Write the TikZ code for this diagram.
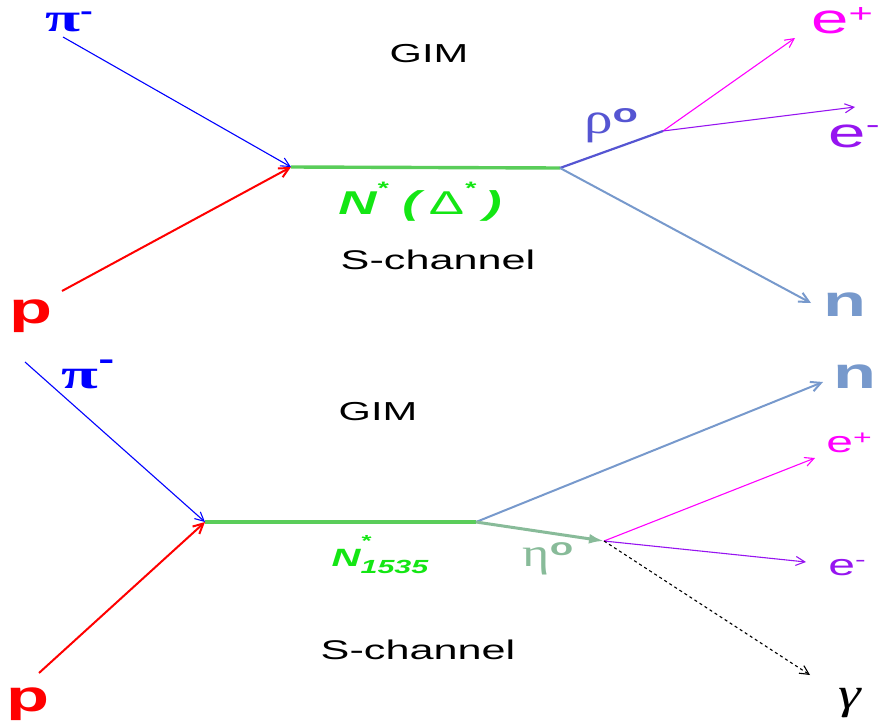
\documentclass[tikz,border=0pt]{standalone}
\usepackage{fontspec}
\usepackage{graphicx}
\usepackage{xcolor}
\usepackage{tikz}
\usetikzlibrary{arrows.meta}

\setmainfont{Liberation Sans}
\newfontfamily\greekfont{Liberation Serif}

\newcommand{\wide}[1]{\scalebox{1.6}[1]{#1}}
\newcommand{\fsize}[1]{\fontsize{#1}{#1}\selectfont}

\definecolor{pblue}{RGB}{0,0,255}
\definecolor{pred}{RGB}{255,0,0}
\definecolor{resline}{RGB}{90,205,90}
\definecolor{reslabel}{RGB}{20,230,20}
\definecolor{rhocol}{RGB}{85,85,210}
\definecolor{ncol}{RGB}{119,153,204}
\definecolor{epcol}{RGB}{255,0,255}
\definecolor{emcol}{RGB}{150,20,240}
\definecolor{etacol}{RGB}{136,187,153}

\begin{document}
\begin{tikzpicture}[
    x=1pt, y=-1pt,
    % text labels, placed by their baseline
    tag/.style={
        inner sep=0pt,
        anchor=base
    },
    % thin lines with an open head
    barb_arrow/.style={
        -{Straight Barb[length=9pt,width=9pt]},
        line width=1.1pt
    },
    % thicker lines with an open head
    thick_arrow/.style={
        -{Straight Barb[length=10pt,width=10pt]},
        line width=2pt
    },
    % resonance line
    res_line/.style={
        draw=resline,
        line width=3.4pt
    }
]
\useasboundingbox (0,0) rectangle (878,728);

% =====================================================================
% UPPER DIAGRAM
% =====================================================================
\coordinate (piA) at (63,37);
\coordinate (pA) at (62,291);
\coordinate (vinA) at (291,167);
\coordinate (voutA) at (560,168);
\coordinate (rhoA) at (663,131);
\coordinate (epA) at (795,38);
\coordinate (emA) at (855,107);
\coordinate (nA) at (811,303);

\node (piLabelA) [tag, text=pblue] at (69,31)
    {{\greekfont\bfseries\fsize{40}\wide{π}}\raisebox{12pt}{\bfseries\fsize{24}\wide{-}}};
\node (pLabelA) [tag, text=pred] at (31,323) {\bfseries\fsize{44}\wide{p}};
\node (gimA) [tag] at (429,62) {\fsize{26}\wide{GIM}};
\node (chanA) [tag] at (438,269) {\fsize{27}\wide{S-channel}};
\node (resA) [tag, text=reslabel] at (420,214)
    {\bfseries\itshape\fsize{33}\wide{N\raisebox{20pt}{\fsize{18}*}\ (\,{\normalfont\fsize{33}Δ}\raisebox{20pt}{\fsize{18}*}\,)}};
\node (rhoLabel) [tag, text=rhocol] at (611,133)
    {{\greekfont\fsize{44}\scalebox{1.3}[1]{ρ}}\raisebox{11pt}{\bfseries\fsize{26}\wide{o}}};
\node (epLabelA) [tag, text=epcol] at (842,33)
    {\fsize{42}\wide{e\raisebox{11pt}{\fsize{26}+}}};
\node (emLabelA) [tag, text=emcol] at (854,147)
    {\fsize{42}\wide{e\raisebox{14pt}{\fsize{26}-}}};
\node (nLabelA) [tag, text=ncol] at (845,316) {\bfseries\fsize{44}\wide{n}};

\draw [barb_arrow, pblue] (piA) -- (vinA);
\draw [thick_arrow, pred] (pA) -- (vinA);
\draw [res_line] (vinA) -- (voutA);
\draw [rhocol, line width=2.2pt] (voutA) -- (rhoA);
\draw [barb_arrow, epcol] (rhoA) -- (epA);
\draw [barb_arrow, emcol] (rhoA) -- (emA);
\draw [thick_arrow, ncol] (voutA) -- (nA);

% =====================================================================
% LOWER DIAGRAM
% =====================================================================
\coordinate (piB) at (25,362);
\coordinate (pB) at (39,673);
\coordinate (vinB) at (205,522);
\coordinate (voutB) at (476,522);
\coordinate (etaB) at (604,541);
\coordinate (nB) at (823,382);
\coordinate (epB) at (815,458);
\coordinate (emB) at (806,562);
\coordinate (gammaB) at (810,675);

\node (piLabelB) [tag, text=pblue] at (88,388)
    {{\greekfont\bfseries\fsize{42}\wide{π}}\raisebox{19pt}{\bfseries\fsize{30}\wide{-}}};
\node (pLabelB) [tag, text=pred] at (28,711) {\bfseries\fsize{44}\wide{p}};
\node (gimB) [tag] at (378,420) {\fsize{26}\wide{GIM}};
\node (chanB) [tag] at (418,659) {\fsize{27}\wide{S-channel}};
\node (resB) [tag, text=reslabel] at (380,566)
    {\bfseries\itshape\fsize{25}\wide{N}\rlap{\raisebox{20pt}{\fsize{16}\wide{*}}}\raisebox{-7pt}{\fsize{19}\wide{1535}}};
\node (etaLabel) [tag, text=etacol] at (548,566)
    {{\greekfont\fsize{40}\scalebox{1.3}[1]{η}}\raisebox{11pt}{\bfseries\fsize{24}\wide{o}}};
\node (nLabelB) [tag, text=ncol] at (855,388) {\bfseries\fsize{44}\wide{n}};
\node (epLabelB) [tag, text=epcol] at (849,452)
    {\fsize{30}\wide{e\raisebox{8pt}{\fsize{20}+}}};
\node (emLabelB) [tag, text=emcol] at (847,575)
    {\fsize{30}\wide{e\raisebox{9pt}{\fsize{20}-}}};
\node (gammaLabel) [tag] at (850,708) {\greekfont\itshape\fsize{44}\scalebox{1.3}[1]{γ}};

\draw [barb_arrow, pblue] (piB) -- (vinB);
\draw [thick_arrow, pred] (pB) -- (vinB);
\draw [res_line] (vinB) -- (voutB);
\draw [thick_arrow, ncol] (voutB) -- (nB);
\draw [-{Latex[length=15pt,width=10pt]}, etacol, line width=3pt] (voutB) -- (etaB);
\draw [barb_arrow, epcol] (etaB) -- (epB);
\draw [barb_arrow, emcol] (etaB) -- (emB);
\draw [barb_arrow, dashed] (etaB) -- (gammaB);

\end{tikzpicture}
\end{document}
